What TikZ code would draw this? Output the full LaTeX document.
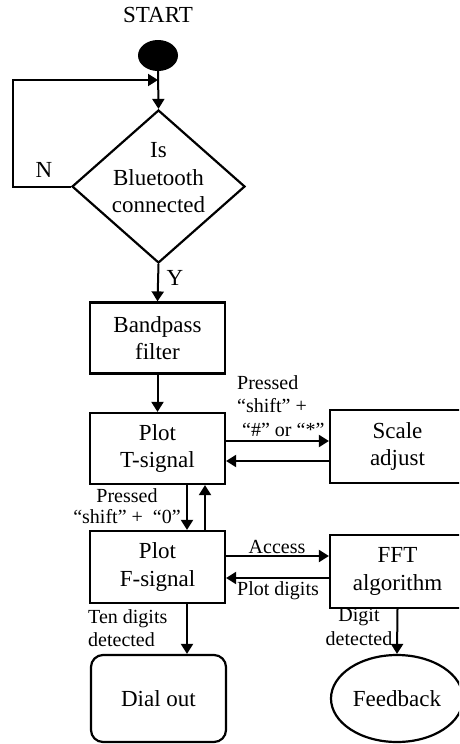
\documentclass[tikz,border=0pt]{standalone}
\usepackage{fontspec}
\setmainfont{Liberation Serif}
\usetikzlibrary{arrows.meta,shapes.geometric}
\begin{document}
\begin{tikzpicture}[x=1pt,y=-1pt,
  arr/.style={-{Triangle[length=10pt,width=12pt]}, line width=2pt},
  bigtext/.style={font=\fontsize{23}{27.5}\selectfont},
  lab/.style={font=\fontsize{20}{23.5}\selectfont, inner sep=0pt},
  box/.style={draw, line width=2.2pt, rectangle, minimum width=135pt, align=center, inner sep=0pt, bigtext},
]
\useasboundingbox (0,0) rectangle (459,744);
\begin{scope}
\clip (0,0) rectangle (459,744);
% start
\node[bigtext, anchor=base, inner sep=0pt] (st) at (158,23) {START};
\node[fill, ellipse, minimum width=40pt, minimum height=31pt, inner sep=0pt] (S0) at (158,55.5) {};
% decision
\node[draw, diamond, line width=2.2pt, minimum width=173pt, minimum height=153pt, inner sep=0pt] (D) at (158.5,186.5) {};
\node[bigtext, align=center, inner sep=0pt] (Dt) at (158.5,178) {Is\\Bluetooth\\connected};
% boxes
\node[box, minimum height=71pt] (B) at (157.5,338) {Bandpass\\filter};
\node[box, minimum height=71pt] (T) at (157.5,448.5) {Plot\\T-signal};
\node[box, minimum height=72pt] (F) at (157.5,567) {Plot\\F-signal};
\node[box, minimum height=73pt] (S) at (397.5,446.5) {Scale\\adjust};
\node[box, minimum height=73pt] (G) at (397.5,571.5) {FFT\\algorithm};
\node[box, rounded corners=12pt, minimum height=87pt] (O) at (158.5,698.5) {Dial out};
\node[draw, ellipse, line width=2.2pt, minimum width=132pt, minimum height=87pt, inner sep=0pt, bigtext] (FB) at (397,698.5) {Feedback};
% helper coordinates
\coordinate (lp) at (13,80);
\coordinate (r1) at (0,441);
\coordinate (r2) at (0,461);
\coordinate (r3) at (0,556);
\coordinate (r4) at (0,578);
\coordinate (c1) at (187,0);
\coordinate (c2) at (205,0);
% connectors
\draw[arr] (S0.south) -- (D.north);
\draw[arr] (D.west) -| (lp) -- (lp -| S0.south);
\draw[arr] (D.south) -- (B.north);
\draw[arr] (B.south) -- (T.north);
\draw[arr] (T.east |- r1) -- (S.west |- r1);
\draw[arr] (S.west |- r2) -- (T.east |- r2);
\draw[arr] (T.south -| c1) -- (F.north -| c1);
\draw[arr] (F.north -| c2) -- (T.south -| c2);
\draw[arr] (F.east |- r3) -- (G.west |- r3);
\draw[arr] (G.west |- r4) -- (F.east |- r4);
\draw[arr] (F.south -| c1) -- (O.north -| c1);
\draw[arr] (G.south) -- (FB.north);
% labels
\node[bigtext, anchor=base, inner sep=0pt] (lN) at (44,177) {N};
\node[bigtext, anchor=base, inner sep=0pt] (lY) at (175,285) {Y};
\node[lab, anchor=north west, align=left] (l1) at (237,375) {Pressed\\“shift” +\\\hspace*{5pt}“\#” or “*”};
\node[lab, anchor=north, align=center, font=\fontsize{20}{21.5}\selectfont] (l2) at (127,488) {Pressed\\“shift” +\ \ “0”};
\node[lab, anchor=base] (l3) at (277,553) {Access};
\node[lab, anchor=base] (l4) at (278,595) {Plot digits};
\node[lab, anchor=north west, align=left] (l5) at (88,609) {Ten digits\\detected};
\node[lab, anchor=north, align=center] (l6) at (359,608.5) {Digit\\detected};
\end{scope}
\end{tikzpicture}
\end{document}
